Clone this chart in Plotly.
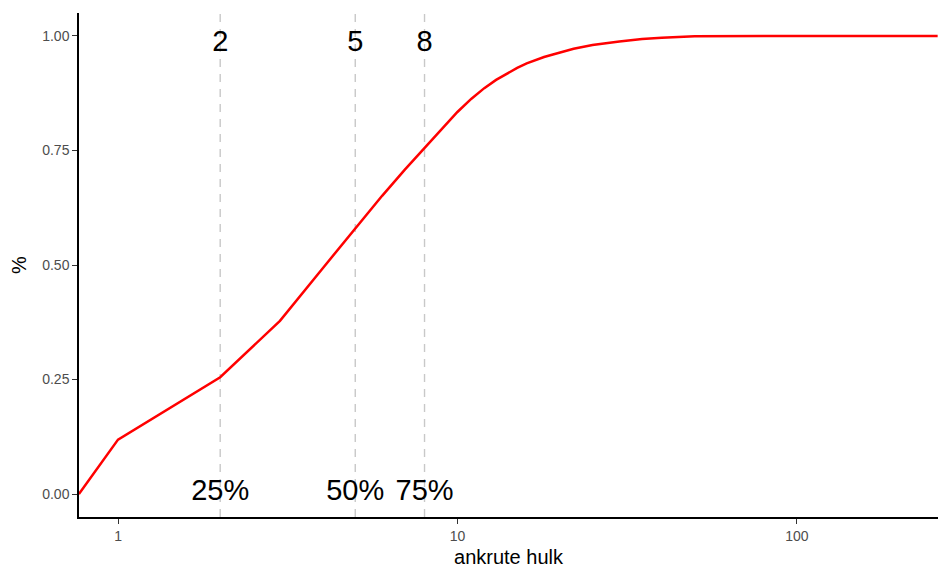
import plotly.graph_objects as go

# ---- data ----
hulk = [0.767, 1, 2, 3, 4, 5, 6, 7, 8, 9, 10, 11, 12, 13, 14, 15, 16, 17, 18, 19, 20,
        22, 25, 30, 35, 40, 50, 60, 80, 100, 150, 200, 260]
osa = [0.0, 0.119, 0.255, 0.378, 0.492, 0.580, 0.651, 0.708, 0.755, 0.797, 0.834,
       0.863, 0.886, 0.904, 0.918, 0.930, 0.940, 0.948, 0.954, 0.959, 0.964,
       0.972, 0.980, 0.988, 0.993, 0.996, 0.999, 1.0, 1.0, 1.0, 1.0, 1.0, 1.0]

kvantiil_x = [2, 5, 8]
kvantiil_silt = ["2", "5", "8"]
kvantiil_prot = ["25%", "50%", "75%"]

y_ticks = [0, 0.25, 0.5, 0.75, 1.0]
y_ticktext = ["0.00", "0.25", "0.50", "0.75", "1.00"]
x_ticks = [1, 10, 100]
x_ticktext = ["1", "10", "100"]

FONT = "Liberation Sans, Arial, Helvetica, sans-serif"
Y_RANGE = [-0.05, 1.05]
TOP_Y = 0.982
BOT_Y = 0.003

fig = go.Figure()

for xv in kvantiil_x:
    fig.add_trace(go.Scatter(
        x=[xv, xv], y=Y_RANGE, mode="lines",
        line=dict(color="#C8C8C8", width=1.4, dash="8px,7px"),
        hoverinfo="skip", showlegend=False))

fig.add_trace(go.Scatter(
    x=hulk, y=osa, mode="lines",
    line=dict(color="#FF0000", width=2.5),
    showlegend=False))

fig.add_trace(go.Scatter(
    x=kvantiil_x, y=[TOP_Y] * len(kvantiil_x), mode="text",
    text=kvantiil_silt, textposition="middle center",
    textfont=dict(size=29, color="black", family=FONT),
    showlegend=False, hoverinfo="skip"))
fig.add_trace(go.Scatter(
    x=kvantiil_x, y=[BOT_Y] * len(kvantiil_x), mode="text",
    text=kvantiil_prot, textposition="middle center",
    textfont=dict(size=29, color="black", family=FONT),
    showlegend=False, hoverinfo="skip"))

fig.update_layout(
    width=939, height=568,
    margin=dict(l=79, r=1, t=13, b=51),
    paper_bgcolor="white", plot_bgcolor="white",
    font=dict(family=FONT, color="black"),
    xaxis=dict(
        type="log", range=[-0.115, 2.416],
        tickvals=x_ticks, ticktext=x_ticktext,
        ticks="outside", ticklen=5, tickwidth=1, tickcolor="#333333",
        tickfont=dict(size=14, color="#4D4D4D"),
        showline=True, linecolor="black", linewidth=1.5,
        showgrid=False, zeroline=False,
        title=dict(text="ankrute hulk", font=dict(size=20, color="black"), standoff=10),
    ),
    yaxis=dict(
        range=Y_RANGE,
        tickvals=y_ticks, ticktext=y_ticktext,
        ticks="outside", ticklen=5, tickwidth=1, tickcolor="#333333",
        tickfont=dict(size=14, color="#4D4D4D"),
        showline=True, linecolor="black", linewidth=1.5,
        showgrid=False, zeroline=False,
        title=dict(text="%", font=dict(size=20, color="black"), standoff=10),
    ),
)

fig.write_html(
    "out.html",
    config={"displayModeBar": False},
    post_script="document.body.style.margin='0';document.body.style.padding='0';"
                "document.body.style.overflow='hidden';",
)
